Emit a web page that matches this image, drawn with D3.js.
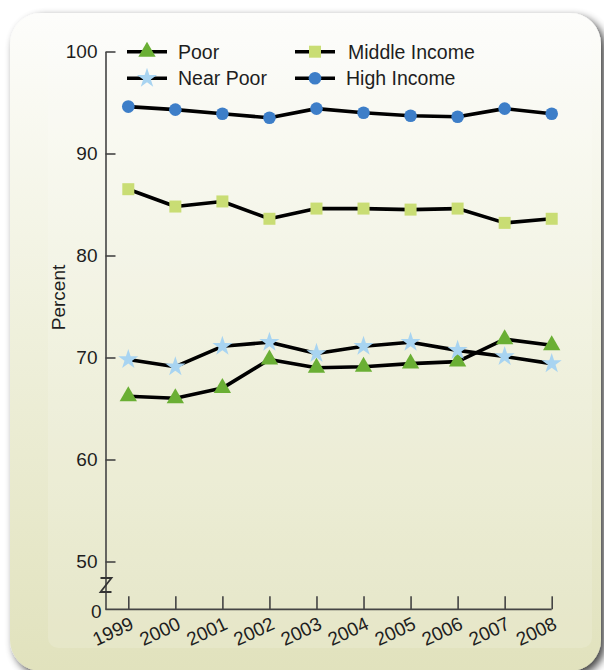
<!DOCTYPE html>
<html>
<head>
<meta charset="utf-8">
<script src="https://cdn.jsdelivr.net/npm/d3@7/dist/d3.min.js"></script>
<style>
  html, body { margin: 0; padding: 0; background: #ffffff; }
  svg { display: block; }
  text { font-family: "Liberation Sans", Arial, Helvetica, sans-serif; fill: #1e1e1e; }
</style>
</head>
<body>
<script>
// ---- data ----
const years = [1999, 2000, 2001, 2002, 2003, 2004, 2005, 2006, 2007, 2008];
const poor = [66.2, 66.0, 67.0, 69.8, 69.0, 69.1, 69.4, 69.6, 71.8, 71.2];
const nearPoor = [69.8, 69.1, 71.1, 71.5, 70.4, 71.1, 71.5, 70.7, 70.1, 69.4];
const middleIncome = [86.5, 84.8, 85.3, 83.6, 84.6, 84.6, 84.5, 84.6, 83.2, 83.6];
const highIncome = [94.6, 94.3, 93.9, 93.5, 94.4, 94.0, 93.7, 93.6, 94.4, 93.9];
const yTickValues = [0, 50, 60, 70, 80, 90, 100];
const seriesNames = ["Poor", "Near Poor", "Middle Income", "High Income"];

const W = 604, H = 670;
const svg = d3.select("body").append("svg").attr("width", W).attr("height", H);

// ---- defs ----
const defs = svg.append("defs");
const grad = defs.append("linearGradient").attr("id", "cardGrad")
  .attr("x1", 0).attr("y1", 0).attr("x2", 0).attr("y2", 1);
grad.append("stop").attr("offset", "0%").attr("stop-color", "#fdfdfb");
grad.append("stop").attr("offset", "45%").attr("stop-color", "#f0f1de");
grad.append("stop").attr("offset", "100%").attr("stop-color", "#e1e2bd");
const filt = defs.append("filter").attr("id", "shadow")
  .attr("x", "-10%").attr("y", "-10%").attr("width", "130%").attr("height", "130%");
filt.append("feGaussianBlur").attr("in", "SourceAlpha").attr("stdDeviation", 4).attr("result", "b");
filt.append("feOffset").attr("in", "b").attr("dx", 4).attr("dy", 4).attr("result", "o");
filt.append("feComponentTransfer").attr("in", "o").attr("result", "s")
  .append("feFuncA").attr("type", "linear").attr("slope", 0.75);
const merge = filt.append("feMerge");
merge.append("feMergeNode").attr("in", "s");
merge.append("feMergeNode").attr("in", "SourceGraphic");

// ---- card ----
svg.append("rect").attr("x", 10).attr("y", 13).attr("width", 591).attr("height", 658)
  .attr("rx", 31).attr("fill", "url(#cardGrad)").attr("filter", "url(#shadow)");
svg.append("rect").attr("x", 48).attr("y", 32).attr("width", 544).attr("height", 616)
  .attr("rx", 10).attr("fill", "#ffffff").attr("opacity", 0.14);

// ---- scales ----
const x = d3.scaleLinear().domain([1999, 2008]).range([128.3, 551.7]);
const y = d3.scaleLinear().domain([0, 50, 100]).range([609.3, 561.5, 51.5]);
const axisX = 105.5;

// ---- y axis ----
const gy = svg.append("g").attr("transform", `translate(${axisX},0)`)
  .call(d3.axisLeft(y).tickValues(yTickValues).tickSizeInner(-10).tickSizeOuter(0).tickPadding(8));
gy.select(".domain").attr("stroke", "#444").attr("stroke-width", 1.6);
gy.selectAll(".tick line").attr("stroke", "#444").attr("stroke-width", 1.6);
gy.selectAll(".tick text").style("font-size", "19px").attr("fill", "#1e1e1e")
  .style("font-family", '"Liberation Sans", Arial, sans-serif');
gy.selectAll(".tick").filter(d => d === 0).select("text").attr("x", -4).attr("dy", "0.42em");
gy.selectAll(".tick").filter(d => d === 0).select("line").remove();

// axis break "Z"
const zTop = y(50) + 16.5;
svg.append("path")
  .attr("d", `M${axisX - 5},${zTop} h11 l-11,14 h11`)
  .attr("fill", "none").attr("stroke", "#333").attr("stroke-width", 1.8);

// ---- x axis ----
const gx = svg.append("g").attr("transform", `translate(0,${y(0)})`)
  .call(d3.axisBottom(x).tickValues(years).tickFormat(d3.format("d")).tickSizeInner(-13).tickSizeOuter(0));
gx.select(".domain").attr("d", `M${axisX},0H${x(2008)}`).attr("stroke", "#444").attr("stroke-width", 1.8);
gx.selectAll(".tick line").attr("stroke", "#444").attr("stroke-width", 1.6);
gx.selectAll(".tick text")
  .style("font-size", "19px").attr("fill", "#1e1e1e")
  .style("font-family", '"Liberation Sans", Arial, sans-serif')
  .attr("text-anchor", "end").attr("dy", null).attr("y", null)
  .attr("transform", "translate(6,19) rotate(-25)");

// y title
svg.append("text").attr("transform", "translate(65,297.5) rotate(-90)")
  .attr("text-anchor", "middle").style("font-size", "19px").text("Percent");

// ---- series ----
const series = [
  { name: seriesNames[0], values: poor, sym: d3.symbolTriangle, size: 130, fill: "#6aaf34" },
  { name: seriesNames[1], values: nearPoor, sym: d3.symbolStar, size: 125, fill: "#a8d4f1" },
  { name: seriesNames[2], values: middleIncome, sym: d3.symbolSquare, size: 144, fill: "#c9dd74" },
  { name: seriesNames[3], values: highIncome, sym: d3.symbolCircle, size: 125, fill: "#3d7ec8" }
];
const line = d3.line().x((d, i) => x(years[i])).y(d => y(d));

const gLines = svg.append("g");
series.forEach(s => {
  gLines.append("path").attr("d", line(s.values))
    .attr("fill", "none").attr("stroke", "#000").attr("stroke-width", 3.6)
    .attr("stroke-linejoin", "round");
});
const gMarks = svg.append("g");
series.forEach(s => {
  gMarks.selectAll(null).data(s.values).enter().append("path")
    .attr("d", d3.symbol().type(s.sym).size(s.size))
    .attr("transform", (d, i) => `translate(${x(years[i])},${y(d)})`)
    .attr("fill", s.fill);
});

// ---- legend ----
const legendPos = [
  { x0: 127, tx: 178, yy: 51.7 },
  { x0: 127, tx: 178, yy: 78.3 },
  { x0: 295, tx: 348, yy: 51.7 },
  { x0: 295, tx: 346, yy: 78.3 }
];
series.forEach((s, i) => {
  const p = legendPos[i];
  const g = svg.append("g");
  g.append("line").attr("x1", p.x0).attr("x2", p.x0 + 40).attr("y1", p.yy).attr("y2", p.yy)
    .attr("stroke", "#000").attr("stroke-width", 3.6);
  g.append("path").attr("d", d3.symbol().type(s.sym).size(s.size))
    .attr("transform", `translate(${p.x0 + 20},${p.yy})`).attr("fill", s.fill);
  g.append("text").attr("x", p.tx).attr("y", p.yy).attr("dy", "0.36em")
    .style("font-size", "19.5px").text(s.name);
});
</script>
</body>
</html>
